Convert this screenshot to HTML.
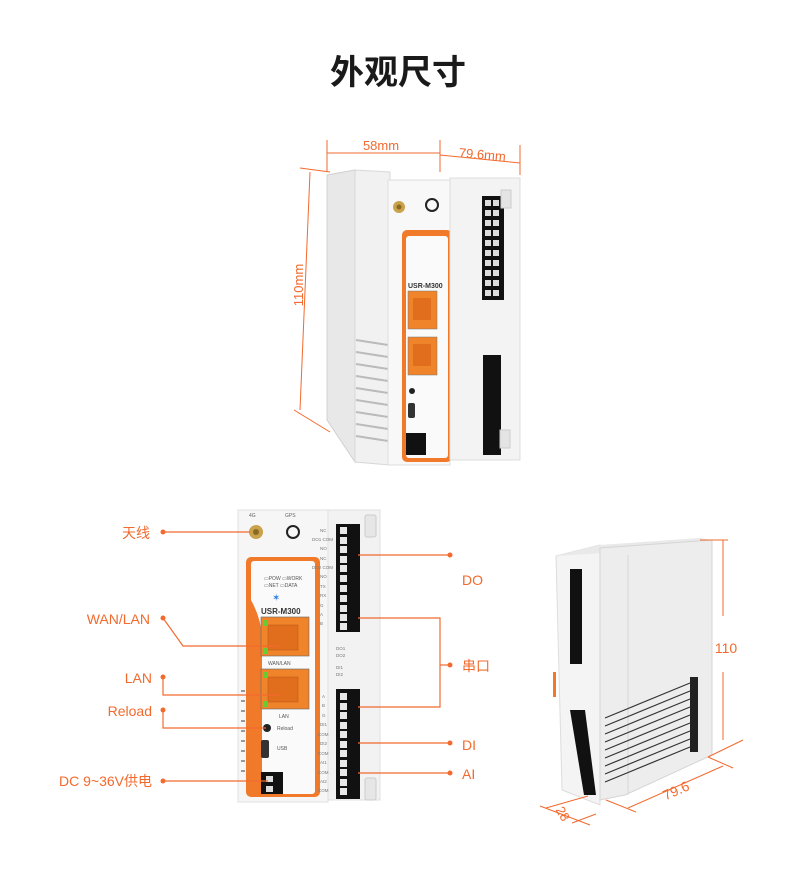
<!DOCTYPE html>
<html><head><meta charset="utf-8"><style>
html,body{margin:0;padding:0;background:#fff;}
svg{display:block;}
text{font-family:"Liberation Sans","Noto Sans CJK SC",sans-serif;}
</style></head><body>
<svg width="790" height="888" viewBox="0 0 790 888" xmlns="http://www.w3.org/2000/svg">
<rect width="790" height="888" fill="#fff"/>
<text x="398" y="84" text-anchor="middle" font-size="34" font-weight="bold" fill="#1a1a1a">外观尺寸</text>

<!-- ===== Top device ===== -->
<g stroke="#f26a2e" stroke-width="1" fill="none">
<line x1="327" y1="153" x2="440" y2="153"/>
<line x1="327" y1="140" x2="327" y2="172"/>
<line x1="440" y1="140" x2="440" y2="172"/>
<line x1="440" y1="155" x2="520" y2="163"/>
<line x1="520" y1="145" x2="520" y2="175"/>
<line x1="310" y1="172" x2="300" y2="410"/>
<line x1="300" y1="168" x2="330" y2="172"/>
<line x1="294" y1="410" x2="330" y2="432"/>
</g>
<text x="381" y="150" text-anchor="middle" font-size="13" fill="#f26a2e">58mm</text>
<text x="482" y="159" text-anchor="middle" font-size="13" fill="#f26a2e" transform="rotate(5 482 159)">79.6mm</text>
<text x="303" y="285" text-anchor="middle" font-size="13" fill="#f26a2e" transform="rotate(-90 303 285)">110mm</text>
<!-- left side panel -->
<polygon points="327,175 355,170 355,462 327,420" fill="#e8e8e8" stroke="#d0d0d0"/>
<polygon points="355,170 390,172 390,465 355,462" fill="#f1f1f1" stroke="#d8d8d8"/>
<g stroke="#bbb" stroke-width="2">
<line x1="356" y1="340" x2="388" y2="345"/><line x1="356" y1="352" x2="388" y2="357"/><line x1="356" y1="364" x2="388" y2="369"/><line x1="356" y1="376" x2="388" y2="381"/><line x1="356" y1="388" x2="388" y2="393"/><line x1="356" y1="400" x2="388" y2="405"/><line x1="356" y1="412" x2="388" y2="417"/><line x1="356" y1="424" x2="388" y2="429"/><line x1="356" y1="436" x2="388" y2="441"/>
</g>
<!-- front left module -->
<rect x="388" y="180" width="62" height="285" fill="#f8f8f8" stroke="#ddd"/>
<rect x="402" y="230" width="50" height="232" rx="5" fill="#f07a2a"/>
<rect x="406" y="236" width="42" height="222" rx="3" fill="#fafafa"/>
<circle cx="399" cy="207" r="6" fill="#c9a24b"/><circle cx="399" cy="207" r="2.5" fill="#8a6a20"/>
<circle cx="432" cy="205" r="6" fill="none" stroke="#222" stroke-width="2"/>
<text x="408" y="288" font-size="7" font-weight="bold" fill="#333">USR-M300</text>
<rect x="408" y="291" width="29" height="38" fill="#f0842a" stroke="#777" stroke-width="0.5"/>
<rect x="413" y="298" width="18" height="22" fill="#e06e1c"/>
<rect x="408" y="337" width="29" height="38" fill="#f0842a" stroke="#777" stroke-width="0.5"/>
<rect x="413" y="344" width="18" height="22" fill="#e06e1c"/>
<circle cx="412" cy="391" r="3" fill="#222"/>
<rect x="408" y="403" width="7" height="15" rx="2" fill="#333"/>
<rect x="406" y="433" width="20" height="22" fill="#111"/>
<!-- right module -->
<rect x="450" y="178" width="70" height="282" fill="#f3f3f3" stroke="#ddd"/>
<rect x="482" y="196" width="22" height="104" fill="#111"/>
<rect x="483" y="355" width="18" height="100" fill="#111"/>
<g fill="#ddd"><rect x="485" y="200" width="6" height="6"/><rect x="485" y="210" width="6" height="6"/><rect x="485" y="220" width="6" height="6"/><rect x="485" y="230" width="6" height="6"/><rect x="485" y="240" width="6" height="6"/><rect x="485" y="250" width="6" height="6"/><rect x="485" y="260" width="6" height="6"/><rect x="485" y="270" width="6" height="6"/><rect x="485" y="280" width="6" height="6"/><rect x="485" y="290" width="6" height="6"/>
<rect x="493" y="200" width="6" height="6"/><rect x="493" y="210" width="6" height="6"/><rect x="493" y="220" width="6" height="6"/><rect x="493" y="230" width="6" height="6"/><rect x="493" y="240" width="6" height="6"/><rect x="493" y="250" width="6" height="6"/><rect x="493" y="260" width="6" height="6"/><rect x="493" y="270" width="6" height="6"/><rect x="493" y="280" width="6" height="6"/><rect x="493" y="290" width="6" height="6"/></g>
<rect x="501" y="190" width="10" height="18" fill="#e4e4e4" stroke="#ccc"/>
<rect x="500" y="430" width="10" height="18" fill="#e4e4e4" stroke="#ccc"/>

<!-- ===== Front view ===== -->
<rect x="238" y="510" width="90" height="292" fill="#f6f6f6" stroke="#e0e0e0"/>
<rect x="328" y="510" width="52" height="290" fill="#f2f2f2" stroke="#e0e0e0"/>
<rect x="246" y="557" width="74" height="240" rx="5" fill="#f07a2a"/>
<rect x="251" y="561" width="64" height="233" rx="3" fill="#fafafa"/>
<path d="M251,561 L251,794 L262,794 L262,640 Q262,620 251,600 Z" fill="#f07a2a"/>
<circle cx="256" cy="532" r="7" fill="#c9a24b"/><circle cx="256" cy="532" r="3" fill="#8a6a20"/>
<circle cx="293" cy="532" r="6" fill="none" stroke="#222" stroke-width="2"/>
<text x="249" y="517" font-size="5" fill="#666">4G</text><text x="285" y="517" font-size="5" fill="#666">GPS</text>
<text x="264" y="580" font-size="5" fill="#555">▭POW ▭WORK</text>
<text x="264" y="587" font-size="5" fill="#555">▭NET ▭DATA</text>
<text x="272" y="601" font-size="10" fill="#2a7de1">✶</text>
<text x="261" y="614" font-size="8" font-weight="bold" fill="#333">USR-M300</text>
<rect x="261" y="617" width="48" height="39" fill="#f0842a" stroke="#666" stroke-width="0.6"/>
<rect x="268" y="625" width="30" height="25" fill="#e06e1c" stroke="#b5561a" stroke-width="0.5"/>
<rect x="263" y="620" width="5" height="6" fill="#6c3"/><rect x="263" y="648" width="5" height="6" fill="#6c3"/>
<text x="268" y="665" font-size="5" fill="#555">WAN/LAN</text>
<rect x="261" y="669" width="48" height="40" fill="#f0842a" stroke="#666" stroke-width="0.6"/>
<rect x="268" y="677" width="30" height="25" fill="#e06e1c" stroke="#b5561a" stroke-width="0.5"/>
<rect x="263" y="672" width="5" height="6" fill="#6c3"/><rect x="263" y="701" width="5" height="6" fill="#6c3"/>
<text x="279" y="718" font-size="5" fill="#555">LAN</text>
<circle cx="267" cy="728" r="4" fill="#222"/>
<text x="277" y="730" font-size="5" fill="#555">Reload</text>
<rect x="261" y="740" width="8" height="18" rx="2" fill="#333"/>
<text x="277" y="750" font-size="5" fill="#555">USB</text>
<rect x="261" y="772" width="22" height="22" fill="#111"/>
<rect x="266" y="776" width="7" height="6" fill="#ddd"/><rect x="266" y="786" width="7" height="6" fill="#ddd"/>
<!-- vents left -->
<g fill="#999"><rect x="241" y="690" width="4" height="2"/><rect x="241" y="700" width="4" height="2"/><rect x="241" y="710" width="4" height="2"/><rect x="241" y="720" width="4" height="2"/><rect x="241" y="730" width="4" height="2"/><rect x="241" y="740" width="4" height="2"/><rect x="241" y="750" width="4" height="2"/><rect x="241" y="760" width="4" height="2"/><rect x="241" y="770" width="4" height="2"/></g>
<!-- terminals -->
<rect x="336" y="524" width="24" height="108" fill="#111"/>
<rect x="336" y="689" width="24" height="110" fill="#111"/>
<g fill="#e8e8e8">
<rect x="340" y="527" width="7" height="7"/><rect x="340" y="537" width="7" height="7"/><rect x="340" y="546" width="7" height="7"/><rect x="340" y="556" width="7" height="7"/><rect x="340" y="565" width="7" height="7"/><rect x="340" y="575" width="7" height="7"/><rect x="340" y="585" width="7" height="7"/><rect x="340" y="595" width="7" height="7"/><rect x="340" y="605" width="7" height="7"/><rect x="340" y="614" width="7" height="7"/><rect x="340" y="623" width="7" height="7"/>
<rect x="340" y="693" width="7" height="7"/><rect x="340" y="703" width="7" height="7"/><rect x="340" y="712" width="7" height="7"/><rect x="340" y="722" width="7" height="7"/><rect x="340" y="731" width="7" height="7"/><rect x="340" y="741" width="7" height="7"/><rect x="340" y="750" width="7" height="7"/><rect x="340" y="760" width="7" height="7"/><rect x="340" y="769" width="7" height="7"/><rect x="340" y="779" width="7" height="7"/><rect x="340" y="788" width="7" height="7"/>
</g>
<g font-size="4.5" fill="#777">
<text x="320" y="532">NC</text><text x="312" y="541">DO1 COM</text><text x="320" y="550">NO</text><text x="320" y="560">NC</text><text x="312" y="569">DO2 COM</text><text x="320" y="578">NO</text><text x="320" y="588">TX</text><text x="320" y="597">RX</text><text x="320" y="607">G</text><text x="320" y="616">A</text><text x="320" y="625">B</text>
<text x="336" y="650">DO1</text><text x="336" y="657">DO2</text><text x="336" y="669">DI1</text><text x="336" y="676">DI2</text>
<text x="322" y="698">A</text><text x="322" y="707">B</text><text x="322" y="717">G</text><text x="320" y="726">DI1</text><text x="318" y="736">COM</text><text x="320" y="745">DI2</text><text x="318" y="755">COM</text><text x="320" y="764">AI1</text><text x="318" y="774">COM</text><text x="320" y="783">AI2</text><text x="318" y="792">COM</text>
</g>
<rect x="365" y="515" width="11" height="22" rx="2" fill="#e6e6e6" stroke="#ccc"/>
<rect x="365" y="778" width="11" height="22" rx="2" fill="#e6e6e6" stroke="#ccc"/>

<!-- leader lines -->
<g stroke="#f26a2e" stroke-width="1.2" fill="none">
<line x1="163" y1="532" x2="250" y2="532"/>
<polyline points="163,618 183,646 281,646"/>
<polyline points="163,677 163,695 279,695"/>
<polyline points="163,710 163,728 266,728"/>
<line x1="163" y1="781" x2="268" y2="781"/>
<line x1="450" y1="555" x2="358" y2="555"/>
<polyline points="358,618 440,618 440,707 358,707"/>
<line x1="440" y1="665" x2="450" y2="665"/>
<line x1="450" y1="743" x2="358" y2="743"/>
<line x1="450" y1="773" x2="358" y2="773"/>
</g>
<g fill="#f26a2e">
<circle cx="163" cy="532" r="2.5"/><circle cx="163" cy="618" r="2.5"/><circle cx="163" cy="677" r="2.5"/><circle cx="163" cy="710" r="2.5"/><circle cx="163" cy="781" r="2.5"/>
<circle cx="450" cy="555" r="2.5"/><circle cx="450" cy="665" r="2.5"/><circle cx="450" cy="743" r="2.5"/><circle cx="450" cy="773" r="2.5"/>
</g>
<g font-size="14" fill="#f26a2e" text-anchor="end">
<text x="150" y="538">天线</text>
<text x="150" y="624">WAN/LAN</text>
<text x="152" y="683">LAN</text>
<text x="152" y="716">Reload</text>
<text x="152" y="786">DC 9~36V供电</text>
</g>
<g font-size="14" fill="#f26a2e">
<text x="462" y="585">DO</text>
<text x="462" y="671">串口</text>
<text x="462" y="750">DI</text>
<text x="462" y="779">AI</text>
</g>

<!-- ===== Iso view ===== -->
<polygon points="556,556 600,545 600,805 562,790" fill="#f4f4f4" stroke="#ddd"/>
<polygon points="556,556 600,545 700,538 712,540 620,552" fill="#e9e9e9"/>
<polygon points="600,548 712,540 712,755 625,795 600,800" fill="#ededed" stroke="#d5d5d5"/>
<line x1="628" y1="555" x2="628" y2="795" stroke="#d8d8d8"/>
<rect x="570" y="569" width="12" height="95" fill="#111"/>
<polygon points="570,710 585,710 596,795 584,795" fill="#111"/>
<rect x="553" y="672" width="3" height="25" fill="#f07a2a"/>
<g stroke="#333" stroke-width="1.2">
<line x1="605" y1="718" x2="690" y2="683"/><line x1="605" y1="726" x2="690" y2="691"/><line x1="605" y1="734" x2="690" y2="699"/><line x1="605" y1="742" x2="690" y2="707"/><line x1="605" y1="750" x2="690" y2="715"/><line x1="605" y1="758" x2="690" y2="723"/><line x1="605" y1="766" x2="690" y2="731"/><line x1="605" y1="774" x2="690" y2="739"/><line x1="605" y1="782" x2="690" y2="747"/>
</g>
<rect x="690" y="677" width="8" height="75" fill="#222"/>
<g stroke="#f26a2e" stroke-width="1" fill="none">
<line x1="700" y1="540" x2="728" y2="540"/>
<line x1="723" y1="540" x2="723" y2="616"/>
<line x1="723" y1="672" x2="723" y2="740"/>
<line x1="708" y1="757" x2="743" y2="740"/>
<line x1="628" y1="808" x2="723" y2="766"/>
<line x1="708" y1="757" x2="733" y2="768"/>
<line x1="606" y1="800" x2="636" y2="812"/>
<line x1="546" y1="808" x2="588" y2="796"/>
<line x1="540" y1="806" x2="590" y2="825"/>
<line x1="572" y1="823" x2="596" y2="814"/>
</g>
<text x="726" y="653" text-anchor="middle" font-size="14" fill="#f26a2e">110</text>
<text x="678" y="795" text-anchor="middle" font-size="14" fill="#f26a2e" transform="rotate(-24 678 795)">79.6</text>
<text x="559" y="816" text-anchor="middle" font-size="13" fill="#f26a2e" transform="rotate(60 559 816)">28</text>
</svg>
</body></html>
